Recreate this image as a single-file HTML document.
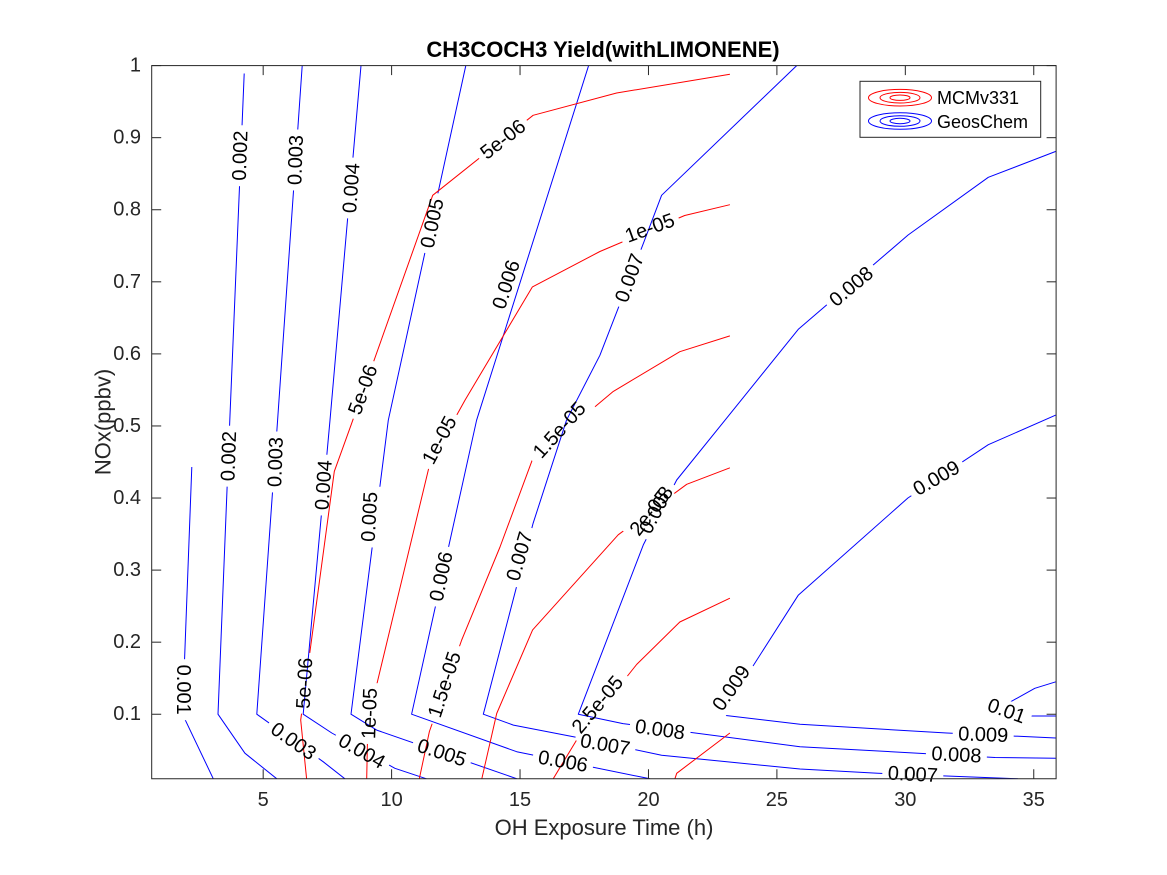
<!DOCTYPE html>
<html><head><meta charset="utf-8"><style>
html,body{margin:0;padding:0;background:#fff;}
svg{display:block;font-family:"Liberation Sans",Arial,sans-serif;}
</style></head><body>
<svg id="chart" width="1167" height="875" viewBox="0 0 1167 875" xmlns="http://www.w3.org/2000/svg">
<rect x="0" y="0" width="1167" height="875" fill="#fff"/>
<defs>
<mask id="mblue" maskUnits="userSpaceOnUse" x="0" y="0" width="1167" height="875"><rect x="0" y="0" width="1167" height="875" fill="#fff"/><g id="mblueHoles"></g></mask>
<mask id="mred" maskUnits="userSpaceOnUse" x="0" y="0" width="1167" height="875"><rect x="0" y="0" width="1167" height="875" fill="#fff"/><g id="mredHoles"></g></mask>
<clipPath id="plotclip"><rect x="151.7" y="65.6" width="904.4" height="713.15"/></clipPath>
</defs>
<g id="blueLines" mask="url(#mblue)" clip-path="url(#plotclip)"></g>
<g id="redLines" mask="url(#mred)" clip-path="url(#plotclip)"></g>
<g id="labels"></g>
<g id="axes"></g>
<text x="603" y="57" text-anchor="middle" font-size="22" font-weight="bold" fill="#000">CH3COCH3 Yield(withLIMONENE)</text>
<text x="604" y="835" text-anchor="middle" font-size="22" fill="#262626">OH Exposure Time (h)</text>
<text x="0" y="0" transform="translate(103,422) rotate(-90)" text-anchor="middle" dominant-baseline="central" font-size="22" fill="#262626">NOx(ppbv)</text>
<g>
<rect x="860" y="81.3" width="180.7" height="56" fill="#fff" stroke="#262626" stroke-width="1"/>
<g>
<ellipse cx="900" cy="97.7" rx="31.5" ry="8.3" fill="none" stroke="#f00" stroke-width="1"/>
<ellipse cx="900" cy="97.7" rx="20" ry="5.3" fill="none" stroke="#f00" stroke-width="1"/>
<ellipse cx="900" cy="97.7" rx="10" ry="2.7" fill="none" stroke="#f00" stroke-width="1"/>
<text x="937" y="104" font-size="18" fill="#000">MCMv331</text>
</g>
<g>
<ellipse cx="900" cy="121" rx="31.5" ry="8.3" fill="none" stroke="#00f" stroke-width="1"/>
<ellipse cx="900" cy="121" rx="20" ry="5.3" fill="none" stroke="#00f" stroke-width="1"/>
<ellipse cx="900" cy="121" rx="10" ry="2.7" fill="none" stroke="#00f" stroke-width="1"/>
<text x="937" y="128" font-size="18" fill="#000">GeosChem</text>
</g>
</g>
</svg>
<script>
// Axis ranges
const xRange = [0.66, 35.87];
const yRange = [0.0105, 1];
const xTicks = [5, 10, 15, 20, 25, 30, 35];
const xTickLabels = ["5", "10", "15", "20", "25", "30", "35"];
const yTicks = [0.1, 0.2, 0.3, 0.4, 0.5, 0.6, 0.7, 0.8, 0.9, 1];
const yTickLabels = ["0.1", "0.2", "0.3", "0.4", "0.5", "0.6", "0.7", "0.8", "0.9", "1"];

// GeosChem contour levels and polylines [OH exposure h, NOx ppbv]
const blueLevels = ["0.001","0.002","0.003","0.004","0.005","0.006","0.007","0.008","0.009","0.01"];
const blue001 = [[2.22,0.443],[1.86,0.10],[3.06,0.0105]];
const blue002 = [[4.26,0.989],[3.70,0.508],[3.24,0.10],[4.29,0.046],[5.53,0.0105]];
const blue003 = [[6.52,1],[5.56,0.508],[4.75,0.10],[7.34,0.034],[8.18,0.0105]];
const blue004 = [[8.81,1],[7.60,0.508],[6.56,0.10],[7.67,0.074],[10.13,0.025],[11.36,0.0105]];
const blue005 = [[12.89,1],[9.87,0.508],[8.42,0.10],[9.42,0.078],[14.88,0.0105]];
const blue006 = [[17.67,1],[13.31,0.508],[10.78,0.10],[14.87,0.048],[20.06,0.0105]];
const blue007 = [[25.77,1],[20.51,0.820],[19.80,0.753],[18.11,0.598],[16.81,0.508],[15.51,0.365],[13.57,0.10],[14.74,0.085],[17.33,0.067],[20.51,0.043],[25.90,0.024],[28.93,0.018],[34.38,0.0105]];
const blue008 = [[35.86,0.881],[33.23,0.845],[30.11,0.765],[25.83,0.634],[22.98,0.508],[21.10,0.425],[19.80,0.335],[17.27,0.10],[19.01,0.087],[25.90,0.055],[33.49,0.040],[35.86,0.039]];
const blue009 = [[35.86,0.515],[33.23,0.474],[30.10,0.400],[25.83,0.265],[22.85,0.099],[25.90,0.086],[31.61,0.074],[35.86,0.067]];
const blue010 = [[35.86,0.145],[35.04,0.136],[33.68,0.109],[34.91,0.0975],[35.86,0.0975]];
const blueSeries = [blue001,blue002,blue003,blue004,blue005,blue006,blue007,blue008,blue009,blue010];

// MCMv331 contour levels and polylines
const redLevels = ["5e-06","1e-05","1.5e-05","2e-05","2.5e-05","3e-05"];
const red5e6 = [[23.17,0.988],[18.76,0.962],[15.51,0.931],[11.60,0.820],[8.42,0.501],[7.77,0.437],[6.46,0.092],[6.69,0.0105]];
const red1e5 = [[23.17,0.807],[21.41,0.792],[18.11,0.742],[15.48,0.693],[12.86,0.536],[11.49,0.448],[9.42,0.141],[9.08,0.10],[9.03,0.0105]];
const red15e5 = [[23.17,0.625],[21.22,0.603],[18.63,0.548],[15.49,0.454],[14.22,0.332],[12.73,0.203],[11.47,0.076],[11.08,0.0105]];
const red2e5 = [[23.17,0.442],[21.49,0.419],[18.82,0.349],[15.49,0.217],[14.09,0.101],[13.51,0.0105]];
const red25e5 = [[23.17,0.261],[21.22,0.228],[19.54,0.169],[17.20,0.064],[16.29,0.0105]];
const red3e5 = [[23.17,0.074],[21.10,0.018],[21.03,0.0105]];
const redSeries = [red5e6,red1e5,red15e5,red2e5,red25e5,red3e5];

// Contour labels: text, x, y, angle
const blueLabelText = ["0.001","0.002","0.002","0.003","0.003","0.003","0.004","0.004","0.004","0.005","0.005","0.005","0.006","0.006","0.006","0.007","0.007","0.007","0.007","0.008","0.008","0.008","0.008","0.009","0.009","0.009","0.01"];
const blueLabelX = [1.88,4.12,3.68,6.28,5.50,6.17,8.45,7.37,8.83,11.60,9.16,11.95,14.48,11.95,16.67,19.28,15.0,18.31,30.29,27.91,20.32,20.45,31.99,31.22,23.24,33.03,33.94];
const blueLabelY = [0.134,0.875,0.458,0.869,0.450,0.062,0.830,0.418,0.048,0.781,0.374,0.046,0.696,0.291,0.034,0.705,0.319,0.057,0.016,0.693,0.383,0.078,0.043,0.427,0.136,0.071,0.104];
const blueLabelAngle = [90,-88,-88,-88,-88,35,-86,-86,30,-78,-87,18,-72,-78,10,-70,-74,10,3,-40,-62,8,3,-30,-55,2,20];
const redLabelText = ["5e-06","5e-06","5e-06","1e-05","1e-05","1e-05","1.5e-05","1.5e-05","2e-05","2.5e-05"];
const redLabelX = [14.35,8.90,6.63,20.06,11.88,9.16,16.55,12.08,20.06,18.03];
const redLabelY = [0.897,0.550,0.143,0.774,0.480,0.101,0.494,0.141,0.379,0.113];
const redLabelAngle = [-38,-70,-87,-20,-62,-88,-48,-72,-52,-50];

const L = 151.7, R = 1056.1, T = 65.6, B = 778.75;
function sx(v){ return L + (v - xRange[0]) / (xRange[1] - xRange[0]) * (R - L); }
function sy(v){ return B - (v - yRange[0]) / (yRange[1] - yRange[0]) * (B - T); }
const NS = "http://www.w3.org/2000/svg";
function mk(tag, attrs, parent){ const e = document.createElementNS(NS, tag); for (const k in attrs) e.setAttribute(k, attrs[k]); parent.appendChild(e); return e; }

function drawLines(series, levels, color, gid, prefix){
  const g = document.getElementById(gid);
  series.forEach((pts, i) => {
    const d = pts.map((p, j) => (j ? "L" : "M") + sx(p[0]).toFixed(1) + " " + sy(p[1]).toFixed(1)).join(" ");
    const p = mk("path", {d: d, fill: "none", stroke: color, "stroke-width": 1, "stroke-linejoin": "round"}, g);
    
    
  });
}
drawLines(blueSeries, blueLevels, "#00f", "blueLines", "geoschem");
drawLines(redSeries, redLevels, "#f00", "redLines", "mcm");

function drawLabels(texts, xs, ys, angs, holeId, prefix){
  const lg = document.getElementById("labels");
  const hg = document.getElementById(holeId);
  texts.forEach((t, i) => {
    const cx = sx(xs[i]), cy = sy(ys[i]);
    const w = t.length * 10.6 + 8, h = 22;
    mk("rect", {x: -w/2, y: -h/2, width: w, height: h, fill: "#000", transform: `translate(${cx.toFixed(1)},${cy.toFixed(1)}) rotate(${angs[i]})`}, hg);
    const tx = mk("text", {x: 0, y: 0, "text-anchor": "middle", "dominant-baseline": "central", "font-size": 20, fill: "#000", transform: `translate(${cx.toFixed(1)},${cy.toFixed(1)}) rotate(${angs[i]})`}, lg);
    tx.textContent = t;
    
    
  });
}
drawLabels(blueLabelText, blueLabelX, blueLabelY, blueLabelAngle, "mblueHoles", "geoschem");
drawLabels(redLabelText, redLabelX, redLabelY, redLabelAngle, "mredHoles", "mcm");

// Axes
const ax = document.getElementById("axes");
const box = mk("rect", {x: L, y: T, width: R - L, height: B - T, fill: "none", stroke: "#262626", "stroke-width": 1}, ax);


xTicks.forEach((v, i) => {
  const x = sx(v);
  mk("line", {x1: x, y1: B, x2: x, y2: B - 9.5, stroke: "#262626", "stroke-width": 1}, ax);
  mk("line", {x1: x, y1: T, x2: x, y2: T + 9.5, stroke: "#262626", "stroke-width": 1}, ax);
  const t = mk("text", {x: x, y: 806, "text-anchor": "middle", "font-size": 20, fill: "#262626"}, ax);
  t.textContent = xTickLabels[i];
  
  
});
yTicks.forEach((v, i) => {
  const y = sy(v);
  mk("line", {x1: L, y1: y, x2: L + 9.5, y2: y, stroke: "#262626", "stroke-width": 1}, ax);
  mk("line", {x1: R, y1: y, x2: R - 9.5, y2: y, stroke: "#262626", "stroke-width": 1}, ax);
  const t = mk("text", {x: 141, y: y, "text-anchor": "end", "dominant-baseline": "central", "font-size": 20, fill: "#262626"}, ax);
  t.textContent = yTickLabels[i];
  
  
});
</script>
</body></html>
